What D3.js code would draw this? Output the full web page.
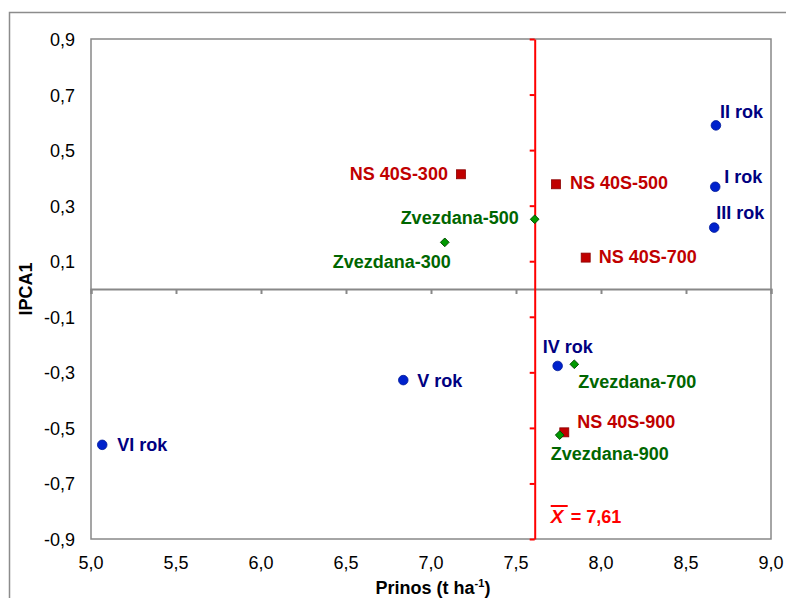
<!DOCTYPE html>
<html>
<head>
<meta charset="utf-8">
<script src="https://cdn.jsdelivr.net/npm/d3@7/dist/d3.min.js"></script>
<style>
  body { margin: 0; background: #fff; }
  text { font-family: "Liberation Sans", Arial, sans-serif; }
</style>
</head>
<body>
<div id="chart"></div>
<script>
// years (blue circles)
var yearNames = ["I rok", "II rok", "III rok", "IV rok", "V rok", "VI rok"];
var yearX = [8.672, 8.676, 8.666, 7.745, 6.837, 5.066];
var yearY = [0.368, 0.589, 0.221, -0.277, -0.328, -0.561];

// NS 40S (red squares)
var nsNames = ["NS 40S-300", "NS 40S-500", "NS 40S-700", "NS 40S-900"];
var nsX = [7.176, 7.735, 7.910, 7.784];
var nsY = [0.413, 0.377, 0.113, -0.516];

// Zvezdana (green diamonds)
var zvNames = ["Zvezdana-300", "Zvezdana-500", "Zvezdana-700", "Zvezdana-900"];
var zvX = [7.081, 7.610, 7.843, 7.757];
var zvY = [0.168, 0.251, -0.271, -0.526];

var xTicks = [5.0, 5.5, 6.0, 6.5, 7.0, 7.5, 8.0, 8.5, 9.0];
var yTicks = [0.9, 0.7, 0.5, 0.3, 0.1, -0.1, -0.3, -0.5, -0.7, -0.9];
var meanX = 7.61;

// label placement (pixels relative to marker)
var yearOff = [[9, -4, "start"], [4, -7, "start"], [2, -9, "start"], [-15, -13, "start"], [14, 7, "start"], [15, 6, "start"]];
var nsOff = [[-13, 6, "end"], [14, 5, "start"], [13, 5, "start"], [13, -4, "start"]];
var zvOff = [[-112, 26, "start"], [-16, 5, "end"], [4, 24, "start"], [-9, 25, "start"]];

var W = 786, H = 598;
var margin = { top: 39, right: 15, bottom: 59, left: 91 },
    width = W - margin.left - margin.right,
    height = H - margin.top - margin.bottom;

var svg = d3.select("#chart").append("svg")
    .attr("width", W)
    .attr("height", H);

// outer chart frame
svg.append("rect")
    .attr("x", 9.5).attr("y", 12.5)
    .attr("width", 820).attr("height", 620)
    .attr("fill", "none").attr("stroke", "#8c8c8c").attr("stroke-width", 1.5);

var g = svg.append("g").attr("transform", `translate(${margin.left},${margin.top})`);

var x = d3.scaleLinear().domain([5, 9]).range([0, width]);
var y = d3.scaleLinear().domain([-0.9, 0.9]).range([height, 0]);
var fmt = d => d3.format(".1f")(d).replace(".", ",").replace("\u2212", "-");

// plot border
g.append("rect")
    .attr("width", width).attr("height", height)
    .attr("fill", "none").attr("stroke", "#888").attr("stroke-width", 1.5);

// horizontal axis through zero, ticks pointing down
var xAxis = g.append("g").attr("transform", `translate(0,${y(0)})`)
    .call(d3.axisBottom(x).tickValues(xTicks).tickSize(5).tickFormat(""));
xAxis.select(".domain").attr("stroke", "#888").attr("stroke-width", 2);
xAxis.selectAll(".tick line").attr("stroke", "#888").attr("stroke-width", 2);

// x tick labels at the bottom
g.selectAll(".xlab").data(xTicks).enter().append("text")
    .attr("class", "xlab")
    .attr("x", d => x(d))
    .attr("y", height + 30)
    .attr("text-anchor", "middle")
    .attr("font-size", "18px")
    .attr("fill", "#000")
    .text(fmt);

// y tick labels at the left
g.selectAll(".ylab").data(yTicks).enter().append("text")
    .attr("class", "ylab")
    .attr("x", -16)
    .attr("y", d => y(d) + 7)
    .attr("text-anchor", "end")
    .attr("font-size", "18px")
    .attr("fill", "#000")
    .text(fmt);

// vertical axis at the mean (red)
var yAxis = g.append("g").attr("transform", `translate(${x(meanX)},0)`)
    .call(d3.axisLeft(y).tickValues(yTicks).tickSize(5).tickSizeOuter(0).tickFormat(""));
yAxis.select(".domain").attr("stroke", "#ff0000").attr("stroke-width", 2);
yAxis.selectAll(".tick line").attr("stroke", "#ff0000").attr("stroke-width", 2);

// mean label
var mx = x(meanX) + 16, my = y(-0.9) - 16;
var xbar = g.append("text")
    .attr("x", mx).attr("y", my)
    .attr("font-family", "'Liberation Serif', 'Times New Roman', serif")
    .attr("font-style", "italic").attr("font-weight", "bold")
    .attr("font-size", "19px").attr("fill", "#ff0000")
    .text("X");
var bb = xbar.node().getBBox();
g.append("line")
    .attr("x1", mx).attr("x2", mx + bb.width + 2)
    .attr("y1", my - 17).attr("y2", my - 17)
    .attr("stroke", "#ff0000").attr("stroke-width", 2);
g.append("text")
    .attr("x", mx + bb.width + 5).attr("y", my)
    .attr("font-weight", "bold").attr("font-size", "18px").attr("fill", "#ff0000")
    .text("= 7,61");

// axis titles
svg.append("text")
    .attr("x", margin.left + width / 2 + 2)
    .attr("y", 594)
    .attr("text-anchor", "middle")
    .attr("font-weight", "bold").attr("font-size", "18px")
    .call(t => {
        t.append("tspan").text("Prinos (t ha");
        t.append("tspan").attr("dy", -7).attr("font-size", "11px").text("-1");
        t.append("tspan").attr("dy", 7).text(")");
    });

svg.append("text")
    .attr("transform", `translate(32,${y(0) + margin.top}) rotate(-90)`)
    .attr("text-anchor", "middle")
    .attr("font-weight", "bold").attr("font-size", "18px")
    .text("IPCA1");

// markers
g.selectAll(".year").data(yearNames).enter().append("circle")
    .attr("class", "year")
    .attr("cx", (d, i) => x(yearX[i]))
    .attr("cy", (d, i) => y(yearY[i]))
    .attr("r", 4.8)
    .attr("fill", "#0022cc").attr("stroke", "#001a99").attr("stroke-width", 0.8);

g.selectAll(".ns").data(nsNames).enter().append("rect")
    .attr("class", "ns")
    .attr("x", (d, i) => x(nsX[i]) - 4.5)
    .attr("y", (d, i) => y(nsY[i]) - 4.5)
    .attr("width", 9).attr("height", 9)
    .attr("fill", "#c00000").attr("stroke", "#8b0000").attr("stroke-width", 0.8);

var diamond = d3.symbol().type(d3.symbolDiamond2).size(48);
g.selectAll(".zv").data(zvNames).enter().append("path")
    .attr("class", "zv")
    .attr("transform", (d, i) => `translate(${x(zvX[i])},${y(zvY[i])})`)
    .attr("d", diamond)
    .attr("fill", "#009900").attr("stroke", "#004d00").attr("stroke-width", 1);

// labels
function addLabels(names, xs, ys, offs, color) {
    names.forEach((n, i) => {
        g.append("text")
            .attr("x", x(xs[i]) + offs[i][0])
            .attr("y", y(ys[i]) + offs[i][1])
            .attr("text-anchor", offs[i][2])
            .attr("font-weight", "bold").attr("font-size", "18px")
            .attr("fill", color)
            .text(n);
    });
}
addLabels(yearNames, yearX, yearY, yearOff, "#000080");
addLabels(nsNames, nsX, nsY, nsOff, "#c00000");
addLabels(zvNames, zvX, zvY, zvOff, "#006600");
</script>
</body>
</html>
